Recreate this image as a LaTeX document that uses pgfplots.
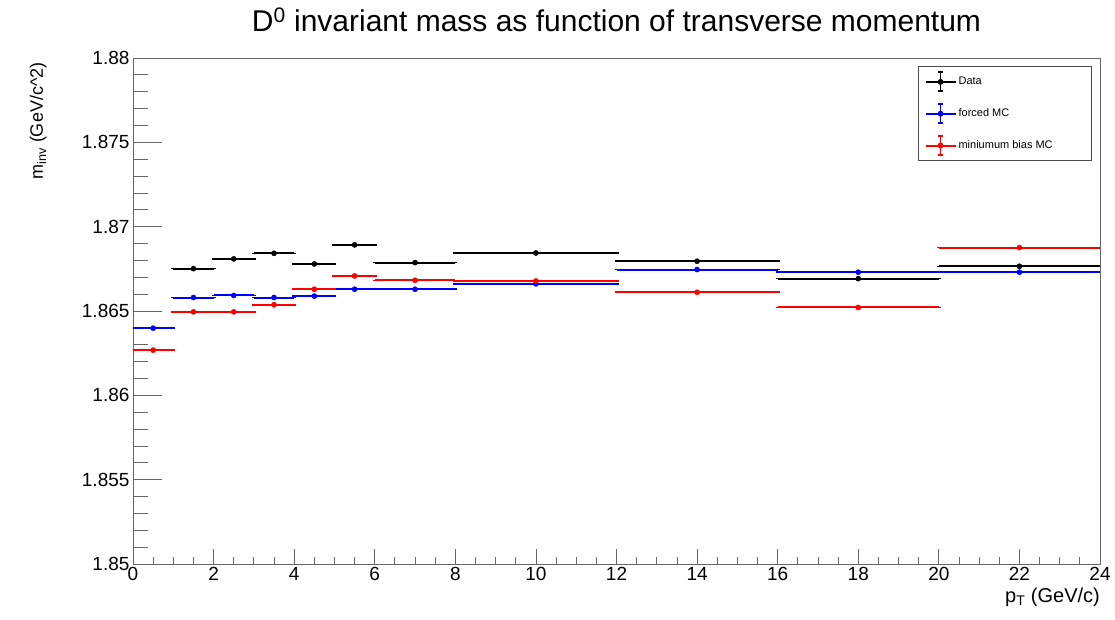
\documentclass[border=0pt]{standalone}
\usepackage{pgfplots}
\pgfplotsset{compat=1.18}
\usepackage{fontspec}
\setmainfont{Liberation Sans}
\definecolor{rootblue}{RGB}{0,0,255}
\definecolor{rootred}{RGB}{255,0,0}
\newcommand{\rootleg}[1]{%
  \draw[#1,line width=2pt] (0pt,0pt) -- (30pt,0pt);
  \draw[#1,line width=1.8pt] (15pt,-9.5pt) -- (15pt,9.5pt);
  \draw[#1,line width=1.8pt] (12.5pt,-9.5pt) -- (17.5pt,-9.5pt);
  \draw[#1,line width=1.8pt] (12.5pt,9.5pt) -- (17.5pt,9.5pt);
  \fill[#1] (15pt,0pt) circle (2.5pt);
}
\pgfplotsset{rootstyle/.style={only marks, mark=*, mark size=2.6pt,
  error bars/.cd, x dir=both, x explicit,
  error bar style={line width=2pt}, error mark options={line width=1.6pt, mark size=2pt}, /pgfplots/.cd}}
\begin{document}
\begin{tikzpicture}
\begin{axis}[
  name=ax,
  at={(0,0)}, anchor=south west,
  scale only axis, width=967pt, height=506pt,
  xmin=0, xmax=24, ymin=1.85, ymax=1.88,
  xtick={0,2,...,24},
  minor x tick num=3,
  ytick={1.85,1.855,1.86,1.865,1.87,1.875,1.88},
  yticklabels={1.85,1.855,1.86,1.865,1.87,1.875,1.88},
  minor y tick num=4,
  xtick pos=bottom, ytick pos=left,
  tick align=inside,
  xtick style={/pgfplots/major tick length=15pt,/pgfplots/minor tick length=7pt, black!60, line width=0.8pt},
  ytick style={/pgfplots/major tick length=29pt,/pgfplots/minor tick length=15pt, black!60, line width=0.8pt},
  axis line style={black!60, line width=0.8pt},
  tick label style={font=\fontsize{19}{22}\selectfont},
  /pgf/number format/assume math mode=true,
  scaled y ticks=false,
  legend cell align=left,
  legend style={at={(rel axis cs:0.9917,0.984)}, anchor=north east, draw=black!70, line width=0.8pt,
    font=\fontsize{11}{13}\selectfont, row sep=11pt, inner xsep=6pt, inner ysep=5pt, cells={anchor=west}},
]
\addplot[color=black, legend image code/.code={\rootleg{black}}, rootstyle]
coordinates {
  (1.5,1.86751) +- (0.5,0)
  (2.5,1.86809) +- (0.5,0)
  (3.5,1.86842) +- (0.5,0)
  (4.5,1.86779) +- (0.5,0)
  (5.5,1.86892) +- (0.5,0)
  (7,1.86787) +- (1,0)
  (10,1.86844) +- (2,0)
  (14,1.86795) +- (2,0)
  (18,1.86692) +- (2,0)
  (22,1.86765) +- (2,0)
};
\addlegendentry{\makebox[125pt][l]{Data}}
\addplot[color=rootblue, legend image code/.code={\rootleg{rootblue}}, rootstyle]
coordinates {
  (0.5,1.86398) +- (0.5,0)
  (1.5,1.86580) +- (0.5,0)
  (2.5,1.86592) +- (0.5,0)
  (3.5,1.86580) +- (0.5,0)
  (4.5,1.86588) +- (0.5,0)
  (5.5,1.86629) +- (0.5,0)
  (7,1.86629) +- (1,0)
  (10,1.86661) +- (2,0)
  (14,1.86746) +- (2,0)
  (18,1.86730) +- (2,0)
  (22,1.86730) +- (2,0)
};
\addlegendentry{\makebox[125pt][l]{forced MC}}
\addplot[color=rootred, legend image code/.code={\rootleg{rootred}}, rootstyle]
coordinates {
  (0.5,1.86268) +- (0.5,0)
  (1.5,1.86495) +- (0.5,0)
  (2.5,1.86495) +- (0.5,0)
  (3.5,1.86537) +- (0.5,0)
  (4.5,1.86629) +- (0.5,0)
  (5.5,1.86708) +- (0.5,0)
  (7,1.86682) +- (1,0)
  (10,1.86678) +- (2,0)
  (14,1.86611) +- (2,0)
  (18,1.86521) +- (2,0)
  (22,1.86876) +- (2,0)
};
\addlegendentry{\makebox[125pt][l]{miniumum bias MC}}
\end{axis}
\node[anchor=base, font=\fontsize{30}{36}\selectfont] at ([yshift=26pt]ax.north) {D\textsuperscript{0} invariant mass as function of transverse momentum};
\node[rotate=90, anchor=base east, font=\fontsize{18}{22}\selectfont] at ([xshift=-90pt,yshift=-1pt]ax.north west) {m\textsubscript{inv} (GeV/c\textasciicircum 2)};
\node[anchor=base east, font=\fontsize{20}{24}\selectfont, inner sep=0pt] at ([yshift=-38pt]ax.south east) {p\textsubscript{T} (GeV/c)};
\pgfresetboundingbox
\path[use as bounding box] ([xshift=-133pt,yshift=-55pt]ax.south west) rectangle ([xshift=15pt,yshift=58pt]ax.north east);
\end{tikzpicture}
\end{document}
